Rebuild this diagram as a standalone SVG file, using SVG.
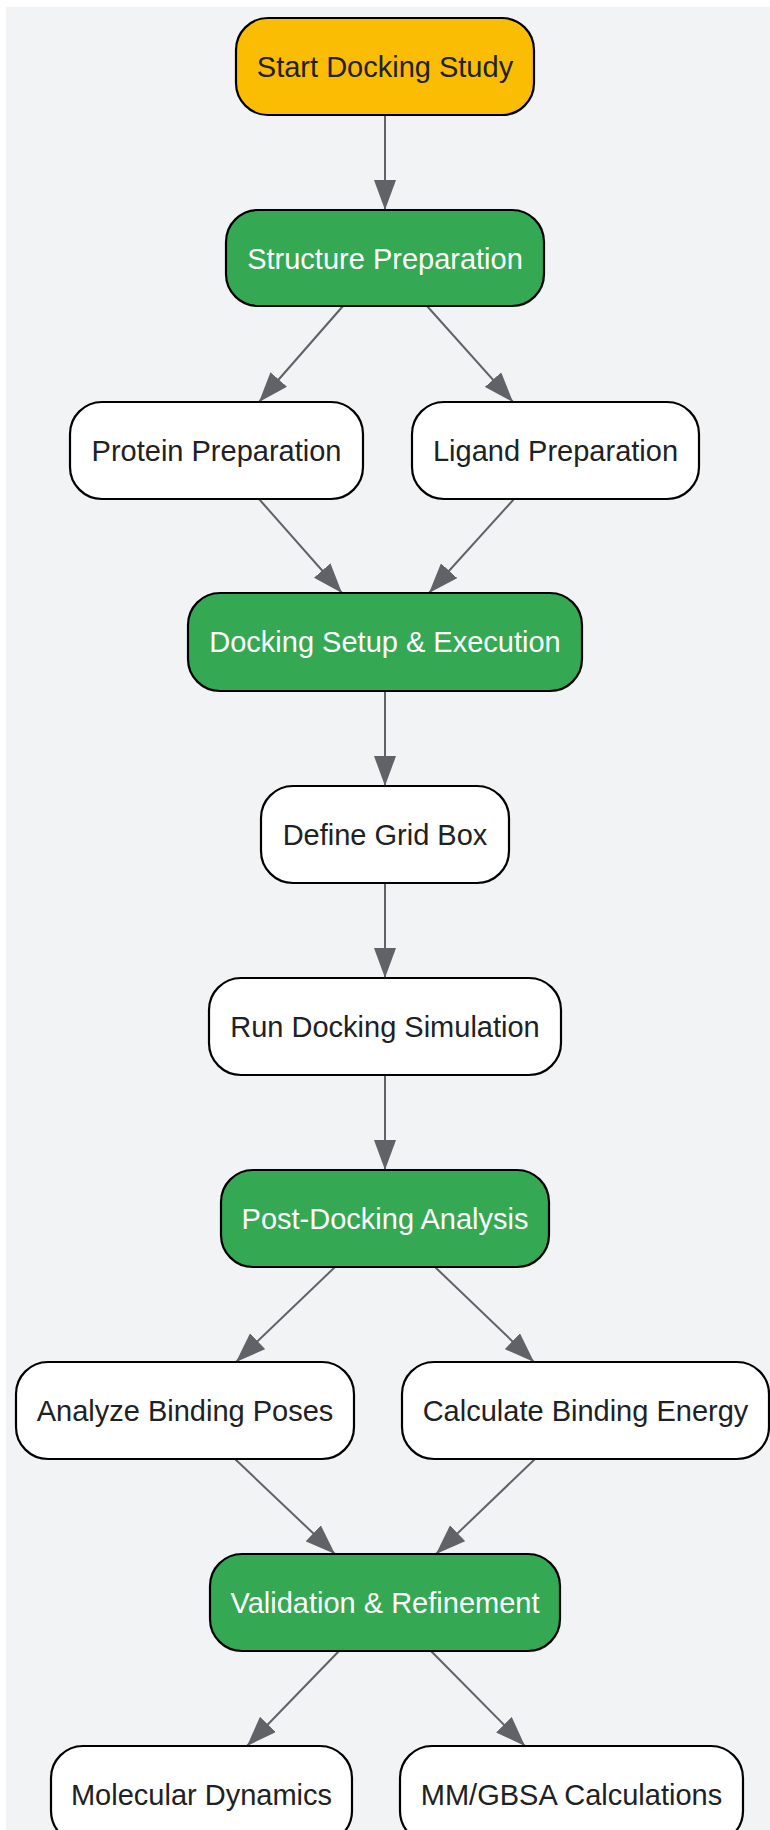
<svg xmlns="http://www.w3.org/2000/svg" width="770" height="1830" viewBox="0 0 770 1830">
<defs>
<marker id="arr" markerUnits="userSpaceOnUse" markerWidth="30" markerHeight="22" refX="30" refY="11" orient="auto">
<path d="M0,0 L30,11 L0,22 z" fill="#5f6368"/>
</marker>
<style>
.n rect{stroke:#000;stroke-width:2.2}
.w rect{fill:#fff}
.g rect{fill:#34a853}
.y rect{fill:#fbbc04}
.n text{font-family:"Liberation Sans",Arial,sans-serif;font-size:29px;text-anchor:middle}
.w text,.y text{fill:#202124}
.g text{fill:#fff}
#edges line{stroke:#5f6368;stroke-width:2;marker-end:url(#arr)}
</style>
</defs>
<rect x="6" y="7" width="764" height="1823" fill="#f1f3f4"/>
<g id="edges">
<line x1="385" y1="115" x2="385" y2="210"/>
<line x1="343" y1="306" x2="259" y2="402"/>
<line x1="427" y1="306" x2="513" y2="402"/>
<line x1="259" y1="499" x2="342" y2="593"/>
<line x1="514" y1="499" x2="429" y2="593"/>
<line x1="385" y1="691" x2="385" y2="786"/>
<line x1="385" y1="883" x2="385" y2="978"/>
<line x1="385" y1="1075" x2="385" y2="1170"/>
<line x1="335" y1="1267" x2="236" y2="1362"/>
<line x1="435" y1="1267" x2="534" y2="1362"/>
<line x1="235" y1="1459" x2="335" y2="1554"/>
<line x1="535" y1="1459" x2="436" y2="1554"/>
<line x1="339" y1="1651" x2="247" y2="1746"/>
<line x1="431" y1="1651" x2="525" y2="1746"/>
</g>
<g id="start" class="n y"><rect x="236" y="18" width="298" height="97" rx="32"/><text x="385" y="77">Start Docking Study</text></g>
<g id="structure" class="n g"><rect x="226" y="210" width="318" height="96" rx="32"/><text x="385" y="269">Structure Preparation</text></g>
<g id="protein" class="n w"><rect x="70" y="402" width="293" height="97" rx="32"/><text x="216.5" y="461">Protein Preparation</text></g>
<g id="ligand" class="n w"><rect x="412" y="402" width="287" height="97" rx="32"/><text x="555.5" y="461">Ligand Preparation</text></g>
<g id="docking" class="n g"><rect x="188" y="593" width="394" height="98" rx="32"/><text x="385" y="652">Docking Setup &amp; Execution</text></g>
<g id="grid" class="n w"><rect x="261" y="786" width="248" height="97" rx="32"/><text x="385" y="845">Define Grid Box</text></g>
<g id="run" class="n w"><rect x="209" y="978" width="352" height="97" rx="32"/><text x="385" y="1037">Run Docking Simulation</text></g>
<g id="post" class="n g"><rect x="221" y="1170" width="328" height="97" rx="32"/><text x="385" y="1229">Post-Docking Analysis</text></g>
<g id="poses" class="n w"><rect x="16" y="1362" width="338" height="97" rx="32"/><text x="185" y="1421">Analyze Binding Poses</text></g>
<g id="energy" class="n w"><rect x="402" y="1362" width="367" height="97" rx="32"/><text x="585.5" y="1421">Calculate Binding Energy</text></g>
<g id="validation" class="n g"><rect x="210" y="1554" width="350" height="97" rx="32"/><text x="385" y="1613">Validation &amp; Refinement</text></g>
<g id="md" class="n w"><rect x="51" y="1746" width="301" height="97" rx="32"/><text x="201.5" y="1805">Molecular Dynamics</text></g>
<g id="mmgbsa" class="n w"><rect x="400" y="1746" width="343" height="97" rx="32"/><text x="571.5" y="1805">MM/GBSA Calculations</text></g>
</svg>
